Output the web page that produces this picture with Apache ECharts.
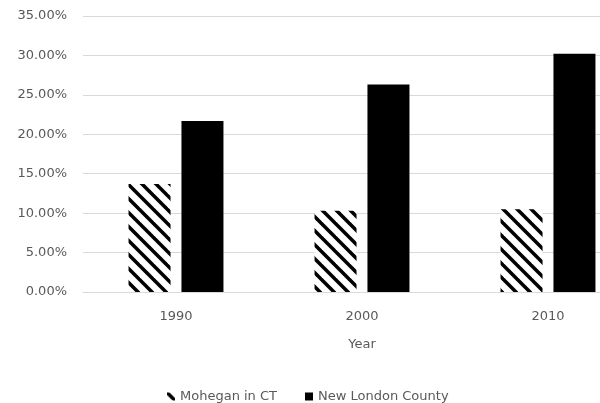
<!DOCTYPE html>
<html>
<head>
<meta charset="utf-8">
<script src="https://cdn.jsdelivr.net/npm/echarts@6/dist/echarts.min.js"></script>
<style>
  html, body { margin: 0; padding: 0; background: #fff; }
  #chart { width: 600px; height: 403px; }
</style>
</head>
<body>
<div id="chart"></div>
<script>
const years = ['1990', '2000', '2010']
const moheganCT = [13.7, 10.3, 10.5]
const newLondon = [21.7, 26.3, 30.2]
const yTicks = { min: 0, max: 35, interval: 5 }

// diagonal hatch (top-left to bottom-right)
const makeHatch = () => {
  const size = 14
  const c = document.createElement('canvas')
  c.width = size
  c.height = size
  const ctx = c.getContext('2d')
  ctx.fillStyle = '#fff'
  ctx.fillRect(0, 0, size, size)
  ctx.strokeStyle = '#000'
  ctx.lineWidth = 3.5
  ;[-size, 0, size].forEach(k => {
    ctx.beginPath()
    ctx.moveTo(-size + k, -size)
    ctx.lineTo(size * 2 + k, size * 2)
    ctx.stroke()
  })
  return c
}

const textColor = '#595959'
const font = 'DejaVu Sans'
const fs = 13

const chart = echarts.init(document.getElementById('chart'))
chart.setOption({
  animation: false,
  grid: { left: 83, top: 16, width: 558, bottom: 111, outerBoundsMode: 'none', containLabel: false },
  legend: {
    left: 162,
    top: 385,
    icon: 'rect',
    itemWidth: 8,
    itemHeight: 8,
    itemGap: 28,
    textStyle: { color: textColor, fontSize: fs, fontFamily: font },
    data: ['Mohegan in CT', 'New London County']
  },
  xAxis: {
    type: 'category',
    data: years,
    name: 'Year',
    nameLocation: 'middle',
    nameGap: 46,
    nameTextStyle: { color: textColor, fontSize: fs, fontFamily: font },
    axisLine: { lineStyle: { color: '#d9d9d9', width: 1 } },
    axisTick: { show: false },
    axisLabel: { color: textColor, fontSize: fs, fontFamily: font, margin: 18 }
  },
  yAxis: {
    type: 'value',
    min: yTicks.min,
    max: yTicks.max,
    interval: yTicks.interval,
    axisLine: { show: false },
    axisTick: { show: false },
    axisLabel: {
      color: textColor,
      fontSize: fs,
      fontFamily: font,
      margin: 16,
      formatter: v => v.toFixed(2) + '%'
    },
    splitLine: { lineStyle: { color: '#d9d9d9', width: 1 } }
  },
  series: [
    {
      name: 'Mohegan in CT',
      type: 'bar',
      data: moheganCT,
      barWidth: 42,
      barGap: '26%',
      itemStyle: { color: { image: makeHatch(), repeat: 'repeat' } }
    },
    {
      name: 'New London County',
      type: 'bar',
      data: newLondon,
      barWidth: 42,
      itemStyle: { color: '#000' }
    }
  ]
})
</script>
</body>
</html>
